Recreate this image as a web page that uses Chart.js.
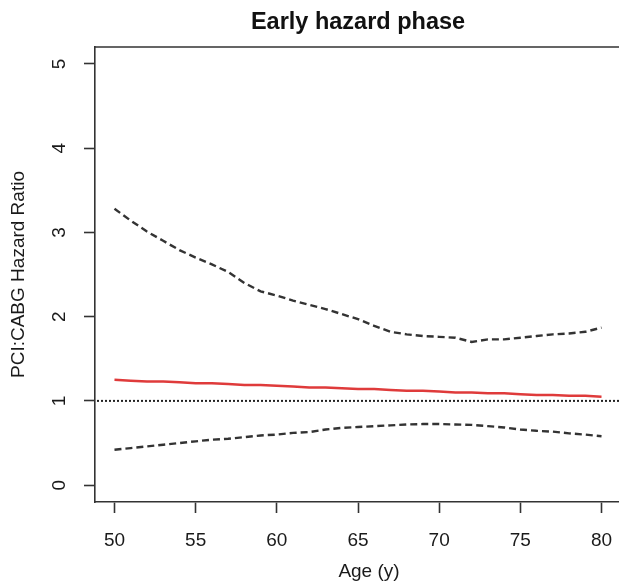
<!DOCTYPE html>
<html>
<head>
<meta charset="utf-8">
<script src="https://cdn.jsdelivr.net/npm/chart.js@4/dist/chart.umd.min.js"></script>
<style>
	html, body { margin: 0; padding: 0; background: #fff; overflow: hidden; }
	#wrap { position: relative; width: 716px; height: 582px; }
</style>
</head>
<body>
<div id="wrap"><canvas id="hazardChart"></canvas></div>
<script>
	// age (years)
	var ages = [50, 51, 52, 53, 54, 55, 56, 57, 58, 59, 60, 61, 62, 63, 64, 65, 66, 67, 68, 69, 70, 71, 72, 73, 74, 75, 76, 77, 78, 79, 80];
	// PCI:CABG hazard ratio estimate and 95% limits
	var hazardRatio = [1.25, 1.24, 1.23, 1.23, 1.22, 1.21, 1.21, 1.20, 1.19, 1.19, 1.18, 1.17, 1.16, 1.16, 1.15, 1.14, 1.14, 1.13, 1.12, 1.12, 1.11, 1.10, 1.10, 1.09, 1.09, 1.08, 1.07, 1.07, 1.06, 1.06, 1.05];
	var upperCI = [3.28, 3.14, 3.01, 2.90, 2.79, 2.70, 2.62, 2.53, 2.40, 2.30, 2.25, 2.19, 2.14, 2.09, 2.03, 1.97, 1.89, 1.82, 1.79, 1.77, 1.76, 1.75, 1.70, 1.73, 1.73, 1.75, 1.77, 1.79, 1.80, 1.82, 1.87];
	var lowerCI = [0.42, 0.44, 0.46, 0.48, 0.50, 0.52, 0.54, 0.55, 0.57, 0.59, 0.60, 0.62, 0.63, 0.66, 0.68, 0.69, 0.70, 0.71, 0.72, 0.725, 0.725, 0.72, 0.715, 0.70, 0.685, 0.66, 0.645, 0.635, 0.615, 0.60, 0.58];
	var xTicks = [50, 55, 60, 65, 70, 75, 80];
	var yTicks = [0, 1, 2, 3, 4, 5];
	var refValue = 1;

	var fontFamily = '"Liberation Sans", Arial, Helvetica, sans-serif';
	var ink = '#1a1a1a';
	var axisColor = '#333333';

	function toPoints(values) {
		return ages.map(function(a, i) { return { x: a, y: values[i] }; });
	}

	// box top line, dotted reference line, rotated y tick labels, x axis title
	var framePlugin = {
		id: 'frame',
		beforeDatasetsDraw: function(chart) {
			var ctx = chart.ctx, area = chart.chartArea;
			var y = chart.scales.y.getPixelForValue(refValue);
			ctx.save();
			ctx.strokeStyle = '#222';
			ctx.lineWidth = 2;
			ctx.setLineDash([2, 2]);
			ctx.beginPath();
			ctx.moveTo(area.left + 2, y);
			ctx.lineTo(area.right, y);
			ctx.stroke();
			ctx.restore();
		},
		afterDraw: function(chart) {
			var ctx = chart.ctx, area = chart.chartArea;
			ctx.save();
			ctx.strokeStyle = axisColor;
			ctx.lineWidth = 1.6;
			ctx.beginPath();
			ctx.moveTo(area.left, area.top);
			ctx.lineTo(area.right, area.top);
			ctx.lineTo(area.right, area.bottom);
			ctx.stroke();

			ctx.fillStyle = ink;
			ctx.font = '19px ' + fontFamily;
			ctx.textAlign = 'center';
			ctx.textBaseline = 'middle';
			yTicks.forEach(function(v) {
				ctx.save();
				ctx.translate(60, chart.scales.y.getPixelForValue(v));
				ctx.rotate(-Math.PI / 2);
				ctx.fillText(String(v), 0, 0);
				ctx.restore();
			});

			// x title sits a little right of the plot centre in the original
			ctx.fillText('Age (y)', (area.left + area.right) / 2 + 11, 572);
			ctx.restore();
		}
	};

	new Chart(document.getElementById('hazardChart'), {
		type: 'line',
		data: {
			datasets: [{
				label: 'Upper limit',
				data: toPoints(upperCI),
				borderColor: '#333333',
				borderWidth: 2.4,
				borderDash: [7, 4],
				pointRadius: 0,
				tension: 0
			}, {
				label: 'Lower limit',
				data: toPoints(lowerCI),
				borderColor: '#333333',
				borderWidth: 2.4,
				borderDash: [7, 4],
				pointRadius: 0,
				tension: 0
			}, {
				label: 'Hazard ratio',
				data: toPoints(hazardRatio),
				borderColor: '#df3b3b',
				borderWidth: 2.5,
				pointRadius: 0,
				tension: 0
			}]
		},
		options: {
			responsive: true,
			maintainAspectRatio: false,
			animation: false,
			layout: { padding: 0 },
			plugins: {
				legend: { display: false },
				tooltip: { enabled: false },
				title: {
					display: true,
					text: 'Early hazard phase',
					color: '#111',
					font: { family: fontFamily, size: 23.5, weight: 'bold', lineHeight: 1 },
					padding: { top: 10.5, bottom: 13 }
				}
			},
			scales: {
				x: {
					type: 'linear',
					min: 48.8,
					max: 81.2,
					afterBuildTicks: function(scale) { scale.ticks = xTicks.map(function(v) { return { value: v }; }); },
					afterFit: function(scale) { scale.height = 80; },
					grid: { drawOnChartArea: false, drawTicks: true, tickLength: 11, tickColor: axisColor, tickWidth: 1.6 },
					border: { display: true, color: axisColor, width: 1.6 },
					ticks: { color: ink, font: { family: fontFamily, size: 19 }, padding: 16, maxRotation: 0 },
					title: { display: false }
				},
				y: {
					type: 'linear',
					min: -0.2,
					max: 5.2,
					afterBuildTicks: function(scale) { scale.ticks = yTicks.map(function(v) { return { value: v }; }); },
					afterFit: function(scale) { scale.width = 95; },
					grid: { drawOnChartArea: false, drawTicks: true, tickLength: 11, tickColor: axisColor, tickWidth: 1.6 },
					border: { display: true, color: axisColor, width: 1.6 },
					ticks: { display: false },
					title: {
						display: true,
						text: 'PCI:CABG Hazard Ratio',
						color: ink,
						font: { family: fontFamily, size: 19, lineHeight: 1 },
						padding: { top: 9.5, bottom: 0 }
					}
				},
				yRight: {
					position: 'right',
					display: true,
					afterFit: function(scale) { scale.width = 95; },
					grid: { display: false },
					border: { display: false },
					ticks: { display: false }
				}
			}
		},
		plugins: [framePlugin]
	});
</script>
</body>
</html>
